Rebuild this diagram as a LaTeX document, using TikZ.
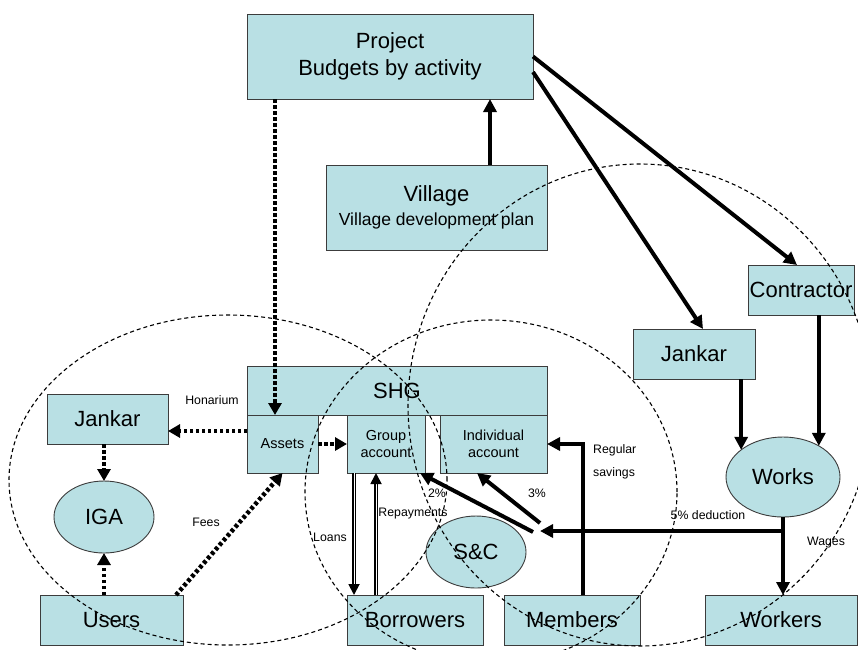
\documentclass[tikz,border=0pt]{standalone}
\usepackage{fontspec}
\setmainfont{Liberation Sans}
\usetikzlibrary{arrows.meta,shapes.geometric}
\definecolor{boxfill}{RGB}{185,224,228}
\definecolor{boxline}{RGB}{60,60,60}
\begin{document}
\begin{tikzpicture}[x=1pt,y=-1pt,
 box/.style={draw=boxline, line width=0.9pt, fill=boxfill, inner sep=0pt, outer sep=0pt, align=center},
 oval/.style={ellipse, draw=boxline, line width=0.9pt, fill=boxfill, inner sep=0pt, outer sep=0pt},
 big/.style={font=\fontsize{22}{27}\selectfont},
 mid/.style={font=\fontsize{14.5}{17.5}\selectfont},
 lbl/.style={font=\fontsize{12.3}{15}\selectfont, inner sep=0pt},
 solidarrow/.style={line width=4pt, -{Triangle[length=13pt,width=13pt]}},
 dotarrow/.style={line width=4.5pt, dash pattern=on 3.5pt off 2.5pt, -{Triangle[length=12pt,width=13pt]}},
 dblarrow/.style={double, double distance=1pt, line width=1.8pt, -{Triangle[length=11pt,width=11pt]}},
 zone/.style={line width=1.1pt, dash pattern=on 4pt off 3pt}
]
\useasboundingbox (0,0) rectangle (858,649);
\fill[white] (0,0) rectangle (858,649);

% boxes
\node[box,big,minimum width=286pt,minimum height=85pt] (project) at (390,56.5) {Project\\Budgets by activity};
\node[box,minimum width=221pt,minimum height=85pt,font=\fontsize{22}{24}\selectfont] (village) at (436.5,207.5) {Village\\{\fontsize{17.5}{21}\selectfont Village development plan}};
\node[box,big,minimum width=300pt,minimum height=49pt] (shg) at (397,390.5) {SHG};
\node[box,mid,minimum width=71pt,minimum height=58pt] (assets) at (282.5,444) {Assets};
\node[box,mid,minimum width=78pt,minimum height=58pt] (group) at (386,444) {Group\\account};
\node[box,mid,minimum width=107pt,minimum height=58pt] (indiv) at (493.5,444) {Individual\\account};
\node[box,big,minimum width=121pt,minimum height=50pt] (jankarL) at (107.5,419) {Jankar};
\node[box,big,minimum width=143pt,minimum height=50pt] (users) at (111.5,620) {Users};
\node[box,big,minimum width=136pt,minimum height=50pt] (borrowers) at (415,620) {Borrowers};
\node[box,big,minimum width=136pt,minimum height=50pt] (members) at (572,620) {Members};
\node[box,big,minimum width=152pt,minimum height=50pt] (workers) at (781,620) {Workers};
\node[box,big,minimum width=106pt,minimum height=50pt] (contractor) at (801,290) {Contractor};
\node[box,big,minimum width=122pt,minimum height=50pt] (jankarR) at (694,354) {Jankar};
\node[oval,big,minimum width=100pt,minimum height=72pt] (iga) at (104,517) {IGA};
\node[oval,big,minimum width=100pt,minimum height=72pt] (sc) at (476,552) {S\&C};
\node[oval,big,minimum width=114pt,minimum height=80pt] (works) at (783,477) {Works};

% zones
\draw[zone] (228,480) ellipse [x radius=219pt, y radius=165pt];
\draw[zone] (491,492) ellipse [x radius=186pt, y radius=172pt];
\draw[zone] (640,405) ellipse [x radius=232pt, y radius=241pt];

% hubs
\coordinate (hub) at (540,531);
\coordinate (hubA) at (533,532);
\coordinate (hubB) at (540,523);

% solid arrows
\draw[solidarrow] ([xshift=53.5pt]village.north) -- ([xshift=53.5pt]village.north |- project.south);
\draw[solidarrow] (project.east) -- ([xshift=-4pt]contractor.north);
\draw[solidarrow] ([yshift=-15.5pt]project.east) -- ([xshift=9pt]jankarR.north);
\draw[solidarrow] (jankarR.south -| works.147) -- (works.147);
\draw[solidarrow] (contractor.south -| works.41) -- (works.41);
\draw[solidarrow] (works.south) -- (works.south |- workers.north);
\draw[solidarrow] (works.south |- hub) -- (hub);
\draw[solidarrow] ([xshift=11pt]members.north) |- (indiv.east);
\draw[solidarrow] (hubA) -- ([xshift=-5pt]group.south east);
\draw[solidarrow] (hubB) -- ([xshift=-16.5pt]indiv.south);
\draw[dblarrow] ([xshift=-32pt]group.south) -- ([xshift=-32pt]group.south |- borrowers.north);
\draw[dblarrow] ([xshift=-10pt]group.south |- borrowers.north) -- ([xshift=-10pt]group.south);

% dotted arrows
\draw[dotarrow] ([xshift=-7.5pt]assets.north |- project.south) -- ([xshift=-7.5pt]assets.north);
\draw[dotarrow] ([yshift=13pt]assets.west) -- ([yshift=13pt]assets.west -| jankarL.east);
\draw[dotarrow] (jankarL.south -| iga.north) -- (iga.north);
\draw[dotarrow] (users.north -| iga.south) -- (iga.south);
\draw[dotarrow] ([xshift=-7pt]users.north east) -- (assets.south);
\draw[dotarrow] (assets.east) -- (group.west);

% labels
\node[lbl] (honarium) at (212,400) {Honarium};
\node[lbl] (fees) at (206,522) {Fees};
\node[lbl] (loans) at (330,537) {Loans};
\node[lbl] (repay) at (413,514) {Repayments};
\node[lbl] (two) at (437,493) {2\%};
\node[lbl] (three) at (537,493) {3\%};
\node[lbl,anchor=west,align=left,font=\fontsize{12.3}{23}\selectfont] (regsav) at (593,461.5) {Regular\\savings};
\node[lbl] (deduct) at (708,515) {5\% deduction};
\node[lbl] (wages) at (826,543) {Wages};
\end{tikzpicture}
\end{document}
